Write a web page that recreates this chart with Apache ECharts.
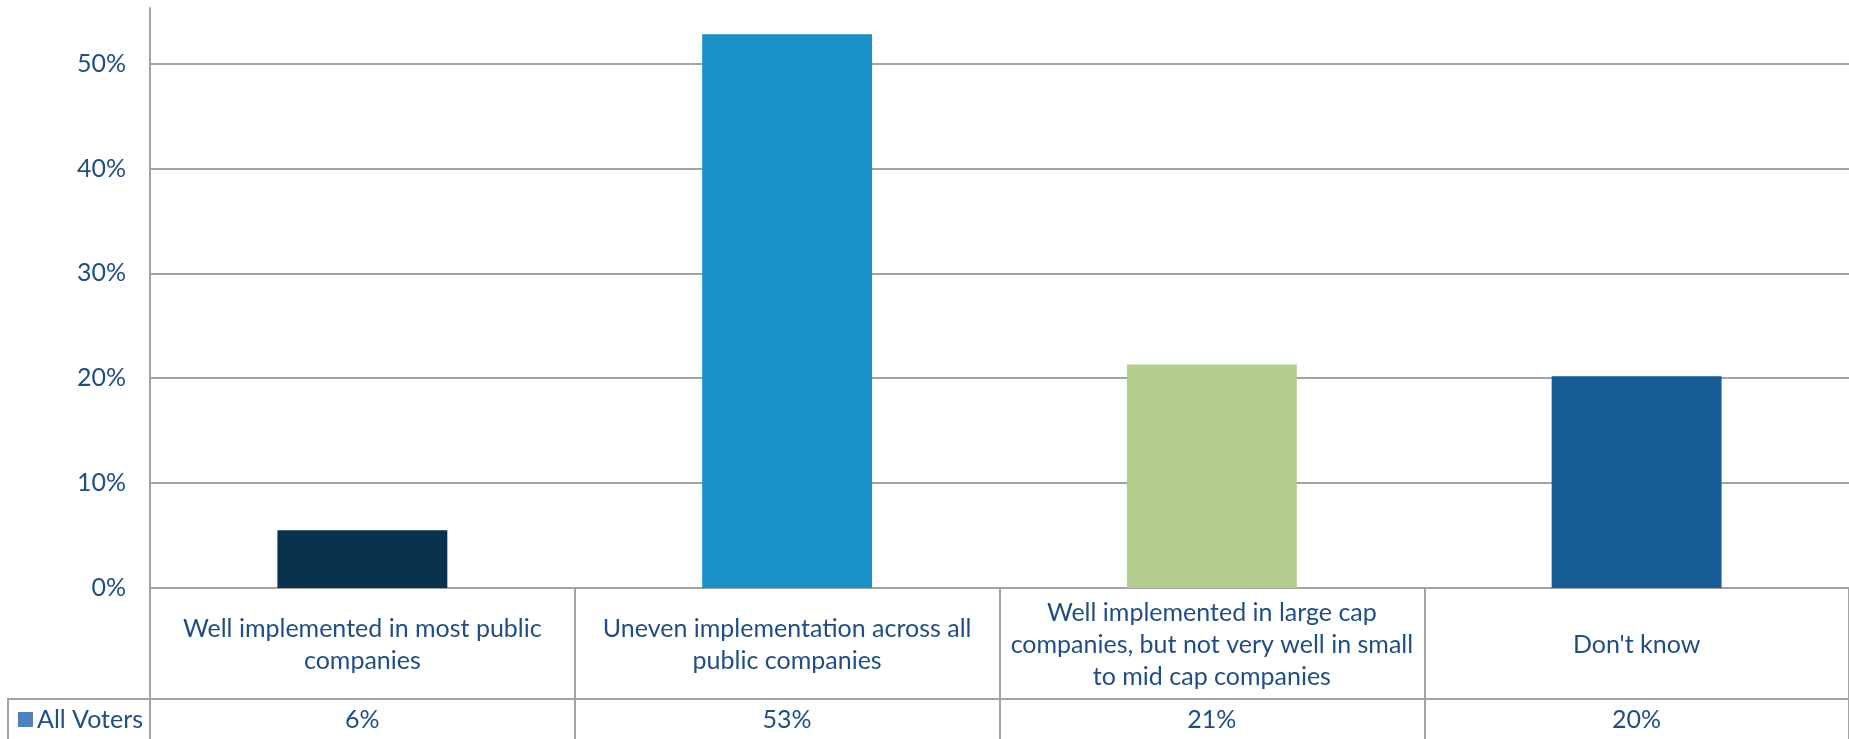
<!DOCTYPE html>
<html>
<head>
<meta charset="utf-8">
<title>All Voters</title>
<script src="https://cdn.jsdelivr.net/npm/echarts@6/dist/echarts.min.js"></script>
<style>
  html, body { margin: 0; padding: 0; background: #ffffff; }
  #chart { width: 1849px; height: 739px; }
</style>
</head>
<body>
<div id="chart"></div>
<script>
// Survey answers (explicit line breaks follow the wrapped table cells)
const categories = [
  'Well implemented in most public\ncompanies',
  'Uneven implementation across all\npublic companies',
  'Well implemented in large cap\ncompanies, but not very well in small\nto mid cap companies',
  "Don't know"
];
const seriesName = 'All Voters';
const values = [0.055, 0.528, 0.213, 0.202];
const barColors = ['#09324f', '#1b91c9', '#b2cd8e', '#175c96'];
const legendColor = '#4f81bd';
const yTicks = [0, 0.1, 0.2, 0.3, 0.4, 0.5];

const textColor = '#1f4e86';
const lineColor = '#a3a3a3';
const fontFamily = 'Lato, "Open Sans", sans-serif';
const fontSize = 25;

const pct = v => Math.round(v * 100) + '%';

const chart = echarts.init(document.getElementById('chart'), null, { renderer: 'canvas' });

chart.setOption({
  animation: false,
  backgroundColor: '#ffffff',
  textStyle: { fontFamily: fontFamily },
  grid: { left: 150, top: 8, width: 1702, height: 580, containLabel: false },
  legend: {
    show: true,
    left: 18,
    top: 707,
    padding: 0,
    icon: 'rect',
    itemWidth: 15,
    itemHeight: 15,
    itemGap: 6,
    data: [{ name: seriesName, itemStyle: { color: legendColor } }],
    textStyle: { color: textColor, fontSize: fontSize, fontFamily: fontFamily, padding: [0, 0, 0, -1] },
    selectedMode: false
  },
  xAxis: [
    {
      type: 'category',
      data: categories,
      position: 'bottom',
      axisLine: { show: true, lineStyle: { color: lineColor, width: 2 } },
      axisTick: {
        show: true,
        alignWithLabel: false,
        interval: 0,
        length: 170,
        lineStyle: { color: lineColor, width: 2 }
      },
      axisLabel: {
        interval: 0,
        color: textColor,
        fontSize: fontSize,
        fontFamily: fontFamily,
        lineHeight: 32,
        align: 'center',
        verticalAlign: 'middle',
        margin: 57
      },
      splitLine: { show: false }
    },
    {
      type: 'category',
      data: values.map(pct),
      position: 'bottom',
      offset: 111,
      axisLine: { show: true, lineStyle: { color: lineColor, width: 2 } },
      axisTick: { show: false },
      axisLabel: {
        interval: 0,
        color: textColor,
        fontSize: fontSize,
        fontFamily: fontFamily,
        verticalAlign: 'middle',
        margin: 21
      },
      splitLine: { show: false }
    }
  ],
  yAxis: {
    type: 'value',
    min: 0,
    max: 0.553,
    interval: 0.1,
    axisLine: { show: true, lineStyle: { color: lineColor, width: 2 } },
    axisTick: { show: false },
    axisLabel: {
      color: textColor,
      fontSize: fontSize,
      fontFamily: fontFamily,
      margin: 24,
      showMaxLabel: false,
      formatter: v => (yTicks.some(t => Math.abs(t - v) < 1e-9) ? pct(v) : '')
    },
    splitLine: {
      show: true,
      showMaxLine: false,
      lineStyle: { color: lineColor, width: 2 }
    }
  },
  // Frame of the legend cell at the left of the value row
  graphic: [
    {
      type: 'polyline',
      shape: { points: [[8, 745], [8, 699], [150, 699]] },
      style: { stroke: lineColor, lineWidth: 2, fill: null },
      silent: true
    }
  ],
  series: [
    {
      name: seriesName,
      type: 'bar',
      xAxisIndex: 0,
      barWidth: '40%',
      itemStyle: { color: legendColor },
      data: values.map((v, i) => ({ value: v, itemStyle: { color: barColors[i] } })),
      label: { show: false }
    }
  ]
});
</script>
</body>
</html>
